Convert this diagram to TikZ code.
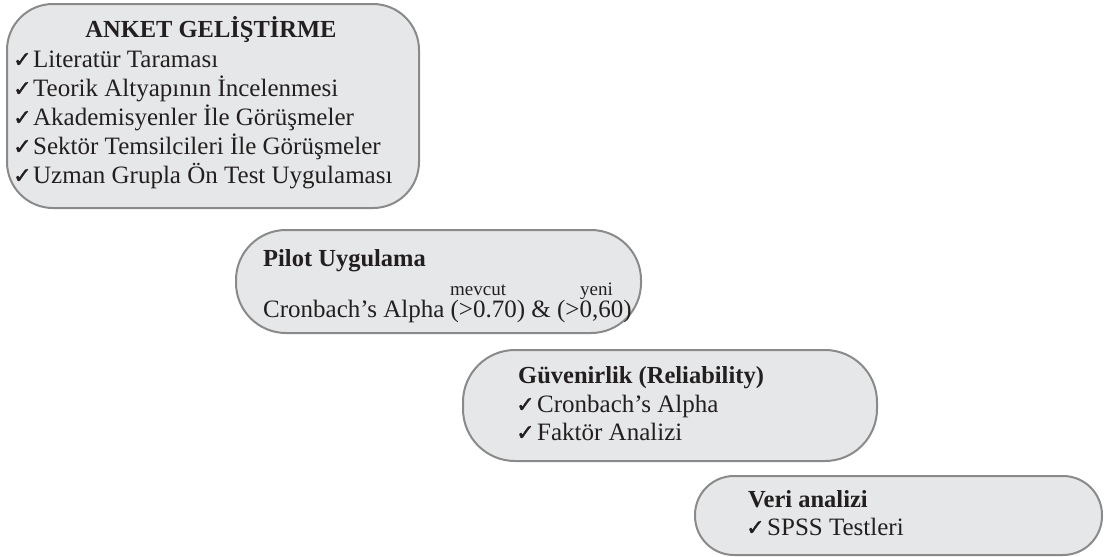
\documentclass[tikz,border=0pt]{standalone}
\usepackage{fontspec}
\setmainfont{Liberation Serif}
\newfontfamily\chkfont[FakeBold=1.6]{DejaVu Sans}
\definecolor{boxfill}{HTML}{E6E7E8}
\definecolor{boxline}{HTML}{8A8A8A}
\definecolor{ink}{HTML}{231F20}
\tikzset{
  stepbox/.style={draw=boxline, fill=boxfill, line width=2pt, inner sep=0pt},
  txt/.style={inner sep=0pt, anchor=base west, text=ink, font=\fontsize{25}{29}\selectfont},
  ttl/.style={inner sep=0pt, anchor=base west, text=ink, font=\fontsize{24.5}{29}\selectfont\bfseries},
  sml/.style={inner sep=0pt, anchor=base west, text=ink, font=\fontsize{19}{20}\selectfont},
  chk/.style={inner sep=0pt, anchor=base west, text=ink, font=\chkfont\fontsize{22}{22}\selectfont}
}
\begin{document}
\begin{tikzpicture}[x=1pt,y=-1pt]
\useasboundingbox (0,0) rectangle (1104,557);
% boxes
\node (b1) [stepbox, rounded corners=46pt, minimum width=412pt, minimum height=204pt] at (213,106) {};
\node (b2) [stepbox, rounded corners=50pt, minimum width=405pt, minimum height=103pt] at (438.5,281.5) {};
\node (b3) [stepbox, rounded corners=52pt, minimum width=414pt, minimum height=111pt] at (670,405.5) {};
\node (b4) [stepbox, rounded corners=39pt, minimum width=407pt, minimum height=79pt] at (898.5,515.5) {};
% box 1
\node (t1) [ttl, anchor=base] at (211,37) {ANKET GELİŞTİRME};
\node (c11) [chk] at (13,67) {✓};
\node (t11) [txt] at (33,67) {Literatür Taraması};
\node (c12) [chk] at (13,96) {✓};
\node (t12) [txt] at (33,96) {Teorik Altyapının İncelenmesi};
\node (c13) [chk] at (13,125) {✓};
\node (t13) [txt] at (33,125) {Akademisyenler İle Görüşmeler};
\node (c14) [chk] at (13,154) {✓};
\node (t14) [txt] at (33,154) {Sektör Temsilcileri İle Görüşmeler};
\node (c15) [chk] at (13,183) {✓};
\node (t15) [txt] at (33,183) {Uzman Grupla Ön Test Uygulaması};
% box 2
\node (t2) [ttl] at (263,266) {Pilot Uygulama};
\node (m2) [sml] at (450,295) {mevcut};
\node (y2) [sml] at (580,295) {yeni};
\node (t21) [txt] at (263,317) {Cronbach’s Alpha (>0.70) \& (>0,60)};
% box 3
\node (t3) [ttl] at (518,383) {Güvenirlik (Reliability)};
\node (c31) [chk] at (516,412) {✓};
\node (t31) [txt] at (537,412) {Cronbach’s Alpha};
\node (c32) [chk] at (516,440) {✓};
\node (t32) [txt] at (537,440) {Faktör Analizi};
% box 4
\node (t4) [ttl] at (748,507) {Veri analizi};
\node (c41) [chk] at (746,535) {✓};
\node (t41) [txt] at (767,535) {SPSS Testleri};
\end{tikzpicture}
\end{document}
